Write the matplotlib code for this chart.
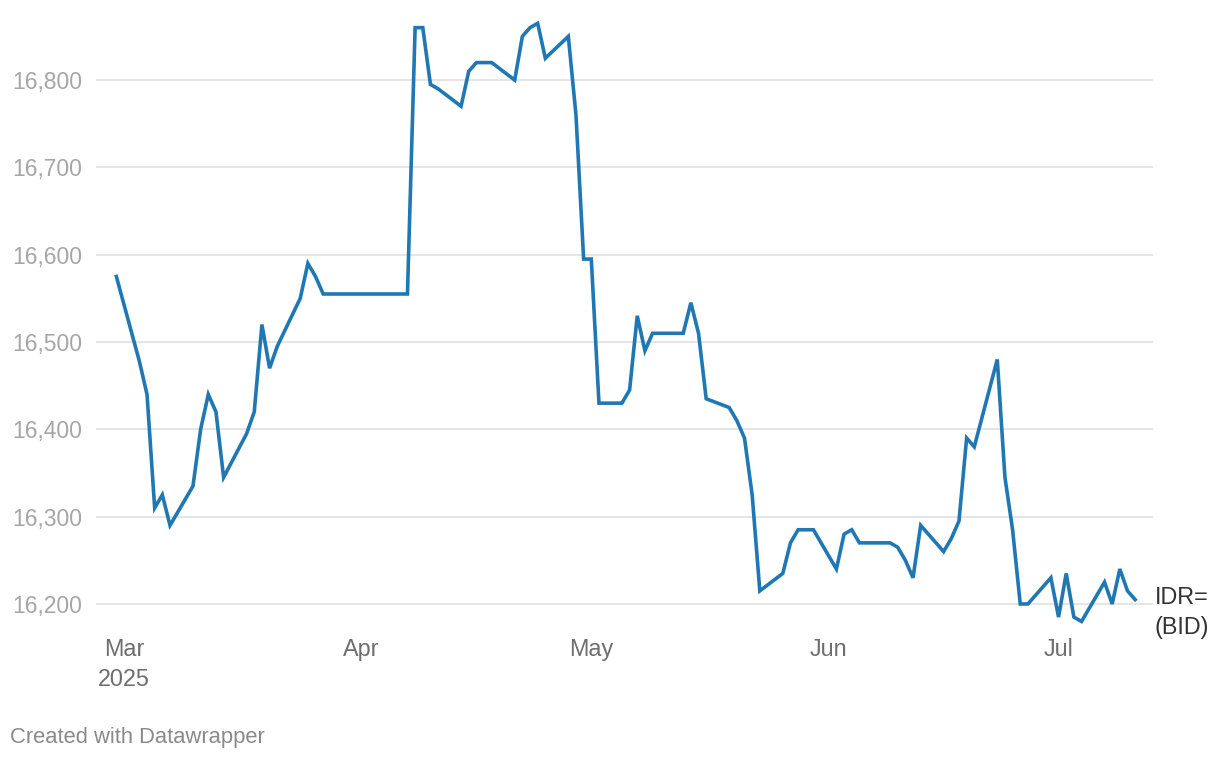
import matplotlib
matplotlib.use("Agg")
import matplotlib.pyplot as plt
import matplotlib.dates as mdates
import numpy as np
from datetime import datetime, timedelta

dates = [
    "2025-02-28", "2025-03-03", "2025-03-04", "2025-03-05", "2025-03-06", "2025-03-07",
    "2025-03-10", "2025-03-11", "2025-03-12", "2025-03-13", "2025-03-14",
    "2025-03-17", "2025-03-18", "2025-03-19", "2025-03-20", "2025-03-21",
    "2025-03-24", "2025-03-25", "2025-03-26", "2025-03-27",
    "2025-04-07", "2025-04-08", "2025-04-09", "2025-04-10", "2025-04-11",
    "2025-04-14", "2025-04-15", "2025-04-16", "2025-04-17", "2025-04-18",
    "2025-04-21", "2025-04-22", "2025-04-23", "2025-04-24", "2025-04-25",
    "2025-04-28", "2025-04-29", "2025-04-30", "2025-05-01", "2025-05-02",
    "2025-05-05", "2025-05-06", "2025-05-07", "2025-05-08", "2025-05-09",
    "2025-05-13", "2025-05-14", "2025-05-15", "2025-05-16",
    "2025-05-19", "2025-05-20", "2025-05-21", "2025-05-22", "2025-05-23",
    "2025-05-26", "2025-05-27", "2025-05-28", "2025-05-30",
    "2025-06-02", "2025-06-03", "2025-06-04", "2025-06-05",
    "2025-06-09", "2025-06-10", "2025-06-11", "2025-06-12", "2025-06-13",
    "2025-06-16", "2025-06-17", "2025-06-18", "2025-06-19", "2025-06-20",
    "2025-06-23", "2025-06-24", "2025-06-25", "2025-06-26", "2025-06-27",
    "2025-06-30", "2025-07-01", "2025-07-02", "2025-07-03", "2025-07-04",
    "2025-07-07", "2025-07-08", "2025-07-09", "2025-07-10", "2025-07-11",
]
values = [
    16575, 16478, 16440, 16310, 16325, 16290,
    16335, 16400, 16440, 16420, 16345,
    16395, 16420, 16520, 16470, 16495,
    16550, 16590, 16575, 16555,
    16555, 16860, 16860, 16795, 16790,
    16770, 16810, 16820, 16820, 16820,
    16800, 16850, 16860, 16865, 16825,
    16850, 16760, 16595, 16595, 16430,
    16430, 16445, 16530, 16490, 16510,
    16510, 16545, 16510, 16435,
    16425, 16410, 16390, 16325, 16215,
    16235, 16270, 16285, 16285,
    16240, 16280, 16285, 16270,
    16270, 16265, 16250, 16230, 16290,
    16260, 16275, 16295, 16390, 16380,
    16480, 16345, 16285, 16200, 16200,
    16230, 16185, 16235, 16185, 16180,
    16225, 16200, 16240, 16215, 16205,
]
y_ticks = [16200, 16300, 16400, 16500, 16600, 16700, 16800]
x_tick_dates = ["2025-03-01", "2025-04-01", "2025-05-01", "2025-06-01", "2025-07-01"]
x_tick_labels = ["Mar\n2025", "Apr", "May", "Jun", "Jul"]
series_label = "IDR=\n(BID)"

plt.rcParams['font.family'] = ['Liberation Sans', 'DejaVu Sans']

W, H = 1220, 760
fig = plt.figure(figsize=(W / 100, H / 100), dpi=100)
fig.patch.set_facecolor("white")

left_px, right_px, top_px, bottom_px = 96, 1153, 15, 630
ax = fig.add_axes([left_px / W, 1 - bottom_px / H, (right_px - left_px) / W, (bottom_px - top_px) / H])

dt = [datetime.strptime(d, "%Y-%m-%d") for d in dates]
base = datetime(2025, 3, 1)
ax.set_xlim(base + timedelta(days=-3.66), base + timedelta(days=134.33))
ax.set_ylim(16170.2, 16874.5)

for yt in y_ticks:
    ax.axhline(yt, color="#e3e3e3", lw=1.3, zorder=1)

ax.plot(dt, values, color="#1f78b4", lw=2.6, solid_joinstyle="miter", zorder=3, clip_on=False)

ax.set_yticks(y_ticks)
ax.set_yticklabels([f"{v:,}" for v in y_ticks])
ax.tick_params(axis="y", length=0, pad=10, labelsize=16.5, labelcolor="#a6a6a6")

ax.set_xticks([datetime.strptime(d, "%Y-%m-%d") for d in x_tick_dates])
ax.set_xticklabels(x_tick_labels, linespacing=1.36)
ax.tick_params(axis="x", length=0, pad=6, labelsize=16.8, labelcolor="#6e6e6e")
for lbl in ax.get_xticklabels():
    lbl.set_verticalalignment("top")

for s in ax.spines.values():
    s.set_visible(False)
ax.set_facecolor("none")

fig.text(1155 / W, 1 - 586 / H, series_label, fontsize=16.8, color="#333333",
         ha="left", va="top", linespacing=1.4)

fig.text(10 / W, 1 - 737 / H, "Created with Datawrapper", fontsize=15.8, color="#8a8a8a",
         ha="left", va="center")

fig.savefig("out.png", dpi=100, facecolor="white")
